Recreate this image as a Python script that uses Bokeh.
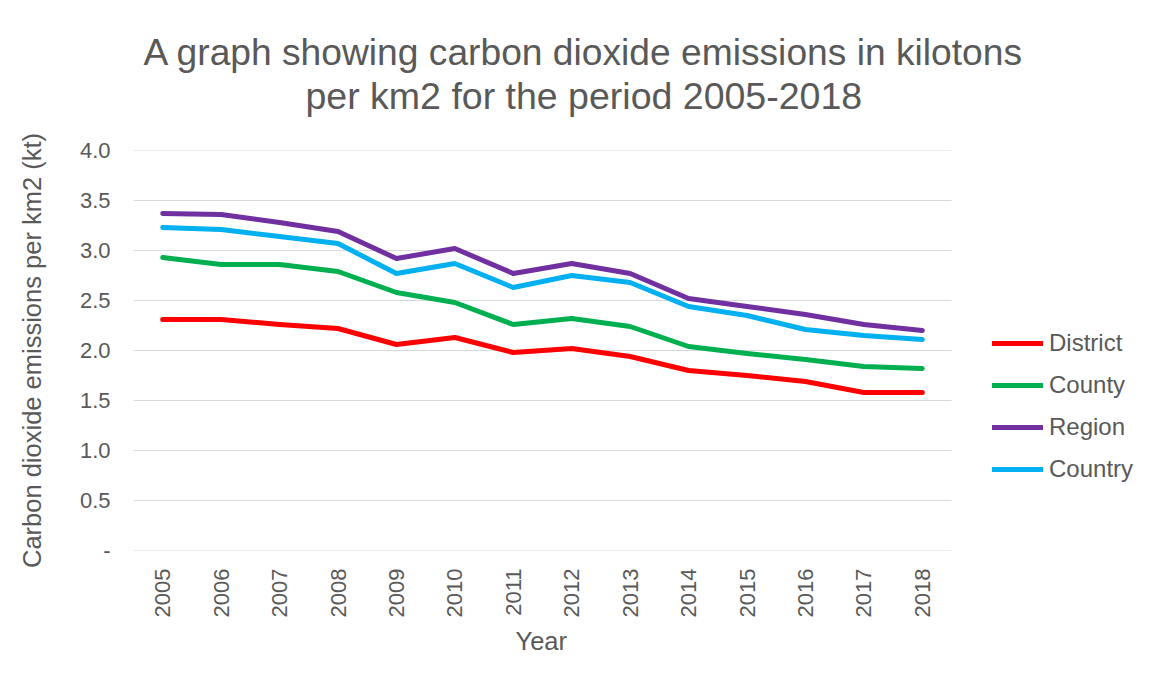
import math
from bokeh.plotting import figure
from bokeh.models import Legend, FixedTicker, Title, Range1d
from bokeh.embed import file_html
from bokeh.resources import INLINE

years = ["2005", "2006", "2007", "2008", "2009", "2010", "2011",
         "2012", "2013", "2014", "2015", "2016", "2017", "2018"]
district = [2.31, 2.31, 2.26, 2.22, 2.06, 2.13, 1.98, 2.02, 1.94, 1.80, 1.75, 1.69, 1.58, 1.58]
county = [2.93, 2.86, 2.86, 2.79, 2.58, 2.48, 2.26, 2.32, 2.24, 2.04, 1.97, 1.91, 1.84, 1.82]
region = [3.37, 3.36, 3.28, 3.19, 2.92, 3.02, 2.77, 2.87, 2.77, 2.52, 2.44, 2.36, 2.26, 2.20]
country = [3.23, 3.21, 3.14, 3.07, 2.77, 2.87, 2.63, 2.75, 2.68, 2.44, 2.35, 2.21, 2.15, 2.11]

series_names = ["District", "County", "Region", "Country"]
series_colors = ["#FF0000", "#00B050", "#7030A0", "#00B0F0"]

y_ticks = [0, 0.5, 1.0, 1.5, 2.0, 2.5, 3.0, 3.5, 4.0]
y_tick_labels = ["-", "0.5", "1.0", "1.5", "2.0", "2.5", "3.0", "3.5", "4.0"]

title_line1 = "A graph showing carbon dioxide emissions in kilotons"
title_line2 = "per km2 for the period 2005-2018"
x_label = "Year"
y_label = "Carbon dioxide emissions per km2 (kt)"

FONT = "Liberation Sans"
GREY = "#595959"
GRID = "#d9d9d9"

# layout (pixels)
W, H = 1142, 676
FRAME_L, FRAME_T, FRAME_B = 133, 150, 550
PLOT_W = 818                      # width of the category area
year_nums = [int(y) for y in years]
px_per_cat = PLOT_W / len(years)
x_start = year_nums[0] - 0.5
x_end = x_start + (W - FRAME_L) / px_per_cat

p = figure(x_range=Range1d(x_start, x_end), y_range=(0, 4), width=W, height=H,
           output_backend="svg", toolbar_location=None, title=None,
           min_border_left=FRAME_L, min_border_right=0,
           min_border_top=FRAME_T, min_border_bottom=H - FRAME_B)
p.outline_line_color = None
p.background_fill_color = "white"
p.border_fill_color = "white"

# titles (first added sits closest to the plot)
spacer = Title(text=" ", text_font=FONT, text_font_size="10px", standoff=21)
t2 = Title(text=title_line2, align="left", offset=172, vertical_align="bottom",
           standoff=0, text_font=FONT, text_font_size="37.5px",
           text_font_style="normal", text_color=GREY)
t1 = Title(text=title_line1, align="left", offset=10, vertical_align="bottom",
           standoff=0, text_font=FONT, text_font_size="37.2px",
           text_font_style="normal", text_color=GREY)
p.add_layout(spacer, "above")
p.add_layout(t2, "above")
p.add_layout(t1, "above")

# gridlines limited to the category area
p.xgrid.visible = False
p.ygrid.visible = False
n = len(y_ticks)
p.segment(x0=[x_start] * n, y0=y_ticks, x1=[year_nums[-1] + 0.5] * n, y1=y_ticks,
          line_color=GRID, line_width=1.2)

p.yaxis.ticker = FixedTicker(ticks=y_ticks)
p.yaxis.major_label_overrides = dict(zip(y_ticks, y_tick_labels))
p.yaxis.axis_line_color = None
p.yaxis.major_tick_line_color = None
p.yaxis.minor_tick_line_color = None
p.yaxis.major_label_standoff = 17
p.yaxis.axis_label = y_label
p.yaxis.axis_label_standoff = 31
p.yaxis.axis_label_text_font = FONT
p.yaxis.axis_label_text_font_size = "25.5px"
p.yaxis.axis_label_text_font_style = "normal"
p.yaxis.axis_label_text_color = GREY

p.xaxis.ticker = FixedTicker(ticks=year_nums)
p.xaxis.major_label_overrides = dict(zip(year_nums, years))
p.xaxis.axis_line_color = None
p.xaxis.major_tick_line_color = None
p.xaxis.minor_tick_line_color = None
p.xaxis.major_label_orientation = math.pi / 2
p.xaxis.major_label_standoff = 12

for ax in (p.xaxis, p.yaxis):
    ax.major_label_text_font = FONT
    ax.major_label_text_font_size = "22px"
    ax.major_label_text_color = GREY

xt = Title(text=x_label, align="left", offset=382, vertical_align="top",
           standoff=12, text_font=FONT, text_font_size="25.5px",
           text_font_style="normal", text_color=GREY)
p.add_layout(xt, "below")

items = []
for name, vals, col in zip(series_names, [district, county, region, country], series_colors):
    r = p.line(year_nums, vals, line_color=col, line_width=5, line_cap="round", line_join="round")
    items.append((name, [r]))

legend = Legend(items=items, location=(859, 66))
legend.label_text_font = FONT
legend.label_text_font_size = "24px"
legend.label_text_color = GREY
legend.glyph_width = 51
legend.glyph_height = 30
legend.label_height = 30
legend.spacing = 12
legend.padding = 0
legend.margin = 0
legend.label_standoff = 6
legend.border_line_color = None
legend.background_fill_alpha = 0
p.add_layout(legend, "center")

open("out.html", "w").write(file_html(p, INLINE))
